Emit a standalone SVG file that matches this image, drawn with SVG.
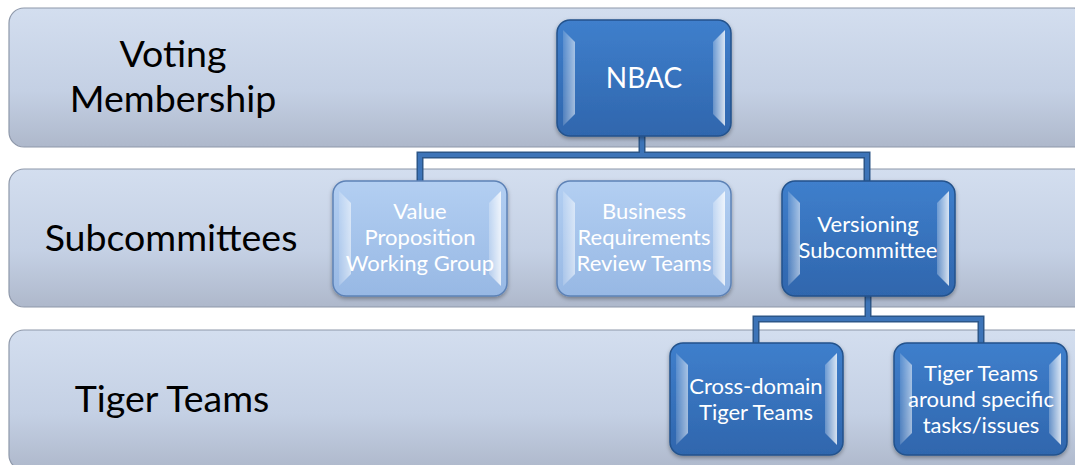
<svg xmlns="http://www.w3.org/2000/svg" width="1075" height="465" viewBox="0 0 1075 465">
<defs>
<linearGradient id="band" x1="0" y1="0" x2="0" y2="1">
<stop offset="0" stop-color="#d3deef"/><stop offset="0.6" stop-color="#c4d0e4"/><stop offset="1" stop-color="#aeb8cb"/>
</linearGradient>
<linearGradient id="dark" x1="0" y1="0" x2="0" y2="1">
<stop offset="0" stop-color="#3f7fcc"/><stop offset="1" stop-color="#2f66ad"/>
</linearGradient>
<linearGradient id="light" x1="0" y1="0" x2="0" y2="1">
<stop offset="0" stop-color="#b3cff2"/><stop offset="1" stop-color="#97b8e4"/>
</linearGradient>
<linearGradient id="hlL" x1="0" y1="0" x2="1" y2="0">
<stop offset="0" stop-color="#ffffff" stop-opacity="0.15"/><stop offset="1" stop-color="#ffffff" stop-opacity="0.55"/>
</linearGradient>
<linearGradient id="hlR" x1="0" y1="0" x2="1" y2="0">
<stop offset="0" stop-color="#ffffff" stop-opacity="0.25"/><stop offset="1" stop-color="#ffffff" stop-opacity="0.8"/>
</linearGradient>
<filter id="sh" x="-10%" y="-10%" width="120%" height="130%">
<feDropShadow dx="0" dy="2" stdDeviation="2" flood-color="#000" flood-opacity="0.35"/>
</filter>
</defs>
<style>
.band{fill:url(#band);stroke:#8e98aa;stroke-width:1.2}
.lab{font-family:Lato,"Liberation Sans",sans-serif;font-size:37.5px;fill:#000;text-anchor:middle}
.nd{stroke:#24528c;stroke-width:1.5;filter:url(#sh)}
.d{fill:url(#dark)}
.l{fill:url(#light);stroke:#5d82b6}
.tx{font-family:Lato,"Liberation Sans",sans-serif;font-size:22px;fill:#fff;text-anchor:middle}
.conO{fill:none;stroke:#2c5688;stroke-width:7}
.conI{fill:none;stroke:#3d74b8;stroke-width:4}
</style>
<g id="bands">
<rect class="band" x="9" y="8" width="1080" height="139" rx="15"/>
<rect class="band" x="9" y="169" width="1080" height="138" rx="15"/>
<rect class="band" x="9" y="330" width="1080" height="140" rx="15"/>
<text class="lab" x="173" y="67">Voting</text>
<text class="lab" x="173" y="112">Membership</text>
<text class="lab" x="171" y="251">Subcommittees</text>
<text class="lab" x="172" y="412">Tiger Teams</text>
</g>
<g id="connectors">
<path class="conO" d="M642 136V155M420 181V155H867V181M868 296V319M756 343V319H981V343"/>
<path class="conI" d="M642 136V155M420 181V155H867V181M868 296V319M756 343V319H981V343"/>
</g>
<g id="nbac">
<rect class="nd d" x="557" y="20" width="174" height="116" rx="13"/>
<polygon points="563,30 575,42 575,114 563,126" fill="url(#hlL)"/>
<polygon points="725,30 713,42 713,114 725,126" fill="url(#hlR)"/>
<text class="tx" x="644" y="88" style="font-size:28px">NBAC</text>
</g>
<g id="value">
<rect class="nd l" x="333" y="181" width="174" height="115" rx="13"/>
<polygon points="339,191 351,203 351,274 339,286" fill="url(#hlL)"/>
<polygon points="501,191 489,203 489,274 501,286" fill="url(#hlR)"/>
<text class="tx" x="420" y="219">Value</text>
<text class="tx" x="420" y="245">Proposition</text>
<text class="tx" x="420" y="271">Working Group</text>
</g>
<g id="business">
<rect class="nd l" x="557" y="181" width="174" height="115" rx="13"/>
<polygon points="563,191 575,203 575,274 563,286" fill="url(#hlL)"/>
<polygon points="725,191 713,203 713,274 725,286" fill="url(#hlR)"/>
<text class="tx" x="644" y="219">Business</text>
<text class="tx" x="644" y="245">Requirements</text>
<text class="tx" x="644" y="271">Review Teams</text>
</g>
<g id="versioning">
<rect class="nd d" x="782" y="181" width="173" height="115" rx="13"/>
<polygon points="788,191 800,203 800,274 788,286" fill="url(#hlL)"/>
<polygon points="949,191 937,203 937,274 949,286" fill="url(#hlR)"/>
<text class="tx" x="868" y="232">Versioning</text>
<text class="tx" x="868" y="258">Subcommittee</text>
</g>
<g id="crossdomain">
<rect class="nd d" x="670" y="343" width="173" height="112" rx="13"/>
<polygon points="676,353 688,365 688,433 676,445" fill="url(#hlL)"/>
<polygon points="837,353 825,365 825,433 837,445" fill="url(#hlR)"/>
<text class="tx" x="756" y="394">Cross-domain</text>
<text class="tx" x="756" y="420">Tiger Teams</text>
</g>
<g id="specific">
<rect class="nd d" x="894" y="343" width="173" height="112" rx="13"/>
<polygon points="900,353 912,365 912,433 900,445" fill="url(#hlL)"/>
<polygon points="1061,353 1049,365 1049,433 1061,445" fill="url(#hlR)"/>
<text class="tx" x="981" y="381">Tiger Teams</text>
<text class="tx" x="981" y="407">around specific</text>
<text class="tx" x="981" y="433">tasks/issues</text>
</g>
</svg>
